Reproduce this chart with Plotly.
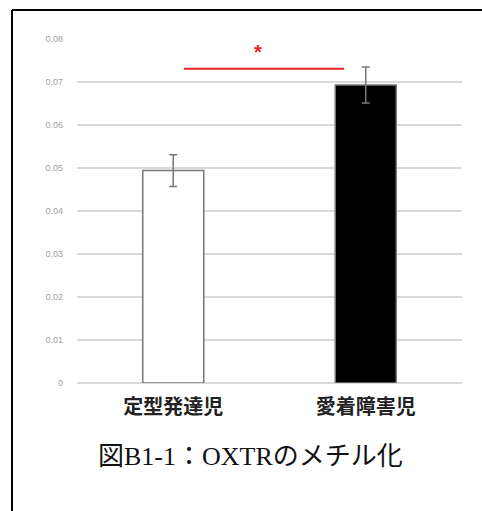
import plotly.graph_objects as go

categories = ["定型発達児", "愛着障害児"]
values = [0.0494, 0.0693]
errors = [0.0037, 0.0042]
bar_colors = ["white", "black"]
y_ticks = [0, 0.01, 0.02, 0.03, 0.04, 0.05, 0.06, 0.07, 0.08]
y_tick_labels = ["0", "0.01", "0.02", "0.03", "0.04", "0.05", "0.06", "0.07", "0.08"]
sig_y = 0.0731
sig_x = [0.056, 0.887]
star_y = 0.0770
caption = "図B1-1：OXTRのメチル化"

W, H = 482, 511
L, R, T, B = 77, 20, 39, 128
pw = W - L - R
ph = H - T - B

def px_x(px):
    return (px - L) / pw

def px_y(py):
    return (H - B - py) / ph

fig = go.Figure()
fig.add_trace(go.Bar(
    x=[0, 1], y=values,
    marker=dict(color=bar_colors, line=dict(color="#777777", width=1.5)),
    width=0.317,
    error_y=dict(type="data", array=errors, visible=True, color="#777777", thickness=1.5, width=4),
    showlegend=False,
))

fig.update_layout(
    width=W, height=H,
    margin=dict(l=L, r=R, t=T, b=B),
    plot_bgcolor="white", paper_bgcolor="white",
    xaxis=dict(
        range=[-0.5, 1.5], tickvals=[0, 1], ticktext=categories,
        showgrid=False, zeroline=False, showline=False, ticks="",
        tickfont=dict(family="Noto Sans CJK JP", size=20, color="#222222", weight="bold"),
        ticklabelstandoff=10,
    ),
    yaxis=dict(
        range=[0, 0.08], tickvals=y_ticks, ticktext=y_tick_labels,
        showgrid=True, gridcolor="#d9d9d9", gridwidth=2,
        zeroline=True, zerolinecolor="#d9d9d9", zerolinewidth=2,
        showline=False, ticks="",
        tickfont=dict(family="Liberation Sans", size=9, color="#a0a0a0"),
        ticklabelstandoff=13,
    ),
)

# significance line and asterisk
fig.add_shape(type="line", xref="x", yref="y", x0=sig_x[0], x1=sig_x[1], y0=sig_y, y1=sig_y,
              line=dict(color="#ee2222", width=2))
fig.add_annotation(x=(sig_x[0] + sig_x[1]) / 2 - 0.03, y=star_y, xref="x", yref="y", text="<b>*</b>",
                   showarrow=False, font=dict(family="Liberation Sans", size=20, color="#ee2222"))

# caption
fig.add_annotation(x=px_x(250), y=px_y(456), xref="paper", yref="paper", text=caption,
                   showarrow=False, xanchor="center", yanchor="middle",
                   font=dict(family="Liberation Serif, Noto Sans CJK JP", size=26, color="#111111"))

# outer frame (top and left edges)
fig.add_shape(type="line", xref="paper", yref="paper", x0=px_x(12), x1=px_x(483), y0=px_y(10), y1=px_y(10),
              line=dict(color="black", width=2), layer="above")
fig.add_shape(type="line", xref="paper", yref="paper", x0=px_x(12), x1=px_x(12), y0=px_y(10), y1=px_y(512),
              line=dict(color="black", width=2), layer="above")

fig.write_html("out.html")
